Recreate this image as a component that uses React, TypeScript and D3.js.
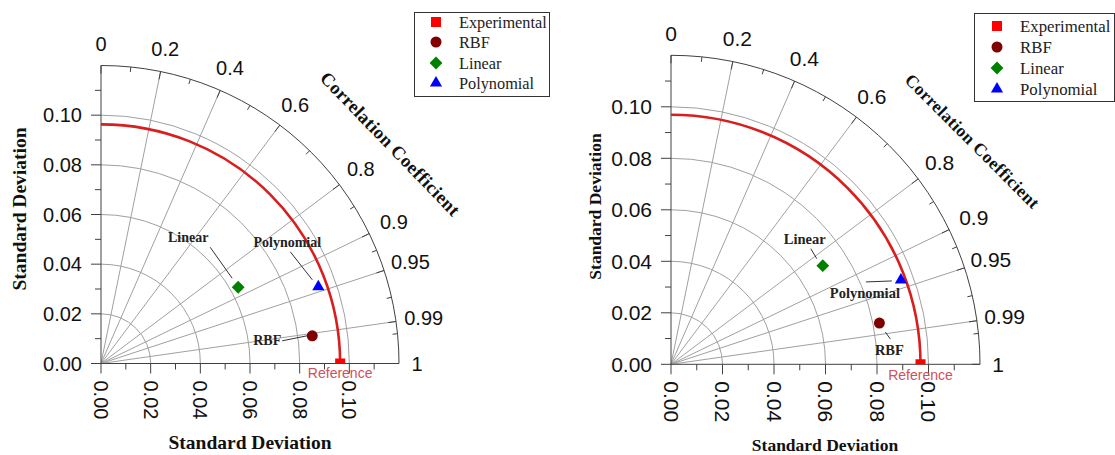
import React from "react";
import * as d3 from "d3";

// ---- data ----
const corrMajor = [0, 0.2, 0.4, 0.6, 0.8, 0.9, 0.95, 0.99, 1];
const corrMajorLabels = ["0", "0.2", "0.4", "0.6", "0.8", "0.9", "0.95", "0.99", "1"];
const corrMinor = [0.1, 0.3, 0.5, 0.7, 0.85, 0.925, 0.975, 0.995];
const corrGrid = [0.2, 0.4, 0.6, 0.8, 0.9, 0.95, 0.99];
const stdMajor = [0, 0.02, 0.04, 0.06, 0.08, 0.1];
const stdMajorLabels = ["0.00", "0.02", "0.04", "0.06", "0.08", "0.10"];
const stdMinor = [0.01, 0.03, 0.05, 0.07, 0.09, 0.11];
const stdGrid = [0.02, 0.04, 0.06, 0.08, 0.1];
const stdMax = 0.12;

const legendNames = ["Experimental", "RBF", "Linear", "Polynomial"];
const modelNames = ["RBF", "Linear", "Polynomial"];

const leftRefStd = 0.0963;
const leftModelStd = [0.0858, 0.0632, 0.0928];
const leftModelCorr = [0.9915, 0.874, 0.943];

const rightRefStd = 0.0969;
const rightModelStd = [0.0825, 0.0703, 0.0951];
const rightModelCorr = [0.981, 0.8385, 0.9388];

// ---- styles ----
const SANS = "'Liberation Sans', Arial, sans-serif";
const SERIF = "'Liberation Serif', 'Times New Roman', serif";
const colors: Record<string, string> = {
  Experimental: "#ff0000",
  RBF: "#800000",
  Linear: "#008000",
  Polynomial: "#0000ff",
};

function markerPath(name: string, scale = 1): { d: string; rot: number } {
  if (name === "Experimental") return { d: d3.symbol(d3.symbolSquare, 100 * scale)()!, rot: 0 };
  if (name === "RBF") return { d: d3.symbol(d3.symbolCircle, 95 * scale)()!, rot: 0 };
  if (name === "Linear") return { d: d3.symbol(d3.symbolSquare, 82 * scale)()!, rot: 45 };
  return { d: d3.symbol(d3.symbolTriangle, 64 * scale)()!, rot: 0 };
}

type Ann = { label: [number, number]; l0: [number, number]; l1: [number, number] };

type Props = {
  id: string;
  ox: number;
  oy: number;
  R: number;
  refStd: number;
  modelStd: number[];
  modelCorr: number[];
  anns: Ann[];
  annSize: number;
  tickSize: number;
  yTitle: [number, number];
  xTitle: [number, number];
  titleSize: number;
  corrTitle: { r: number; ang: number; rot: number; size: number };
  legend: { x: number; y: number; w: number; h: number; mx: number; tx: number; rows: number[]; size: number };
  refLabelDy: number;
};

function Taylor(p: Props) {
  const r = d3.scaleLinear().domain([0, stdMax]).range([0, p.R]);
  const pt = (s: number, c: number): [number, number] => {
    const th = Math.acos(c);
    return [p.ox + r(s) * Math.cos(th), p.oy - r(s) * Math.sin(th)];
  };
  const arcPath = (rad: number) => {
    const path = d3.path();
    path.moveTo(p.ox, p.oy - rad);
    path.arc(p.ox, p.oy, rad, -Math.PI / 2, 0, false);
    return path.toString();
  };
  const grid = "#a0a0a0";
  const axis = "#404040";
  const refPt = pt(p.refStd, 1);

  return (
    <g>
      <defs>
        <clipPath id={`clip-${p.id}`}>
          <rect x={p.ox - 5} y={p.oy - p.R - 20} width={p.R + 30} height={p.R + 20} />
        </clipPath>
      </defs>
      {stdGrid.map((s) => (
        <path key={"g" + s} d={arcPath(r(s))} fill="none" stroke={grid} strokeWidth={1} />
      ))}
      {corrGrid.map((c) => {
        const [x, y] = pt(stdMax, c);
        return <line key={"rl" + c} x1={p.ox} y1={p.oy} x2={x} y2={y} stroke={grid} strokeWidth={1} />;
      })}
      <path d={arcPath(p.R)} fill="none" stroke={axis} strokeWidth={1} />
      {corrMajor.map((c) => {
        const th = Math.acos(c);
        const a = [p.ox + p.R * Math.cos(th), p.oy - p.R * Math.sin(th)];
        const b = [p.ox + (p.R - 8) * Math.cos(th), p.oy - (p.R - 8) * Math.sin(th)];
        return <line key={"mt" + c} x1={a[0]} y1={a[1]} x2={b[0]} y2={b[1]} stroke={axis} strokeWidth={1} />;
      })}
      {corrMinor.map((c) => {
        const th = Math.acos(c);
        const a = [p.ox + p.R * Math.cos(th), p.oy - p.R * Math.sin(th)];
        const b = [p.ox + (p.R - 5) * Math.cos(th), p.oy - (p.R - 5) * Math.sin(th)];
        return <line key={"nt" + c} x1={a[0]} y1={a[1]} x2={b[0]} y2={b[1]} stroke={axis} strokeWidth={1} />;
      })}
      {corrMajor.map((c, i) => {
        const th = Math.acos(c);
        const lab = corrMajorLabels[i];
        const rl = lab === "1" ? p.R + 18 : lab === "0" ? p.R + 22 : p.R + 22 + 6 * c;
        return (
          <text
            key={"cl" + c}
            x={p.ox + rl * Math.cos(th)}
            y={p.oy - rl * Math.sin(th)}
            textAnchor="middle"
            dominantBaseline="central"
            fontFamily={SANS}
            fontSize={p.tickSize}
            fill="#111"
          >
            {lab}
          </text>
        );
      })}
      <line x1={p.ox} y1={p.oy} x2={p.ox} y2={p.oy - p.R} stroke={axis} strokeWidth={1} />
      <line x1={p.ox} y1={p.oy} x2={p.ox + p.R} y2={p.oy} stroke={axis} strokeWidth={1} />
      {stdMajor.map((s, i) => (
        <g key={"sm" + s}>
          <line x1={p.ox - 10} y1={p.oy - r(s)} x2={p.ox} y2={p.oy - r(s)} stroke={axis} />
          <line x1={p.ox + r(s)} y1={p.oy} x2={p.ox + r(s)} y2={p.oy + 10} stroke={axis} />
          <text
            x={p.ox - 19}
            y={p.oy - r(s)}
            textAnchor="end"
            dominantBaseline="central"
            fontFamily={SANS}
            fontSize={p.tickSize}
            fill="#111"
          >
            {stdMajorLabels[i]}
          </text>
          <text
            transform={`translate(${p.ox + r(s)},${p.oy + 17}) rotate(90)`}
            textAnchor="start"
            dominantBaseline="central"
            fontFamily={SANS}
            fontSize={p.tickSize}
            fill="#111"
          >
            {stdMajorLabels[i]}
          </text>
        </g>
      ))}
      {stdMinor.map((s) => (
        <g key={"sn" + s}>
          <line x1={p.ox - 6} y1={p.oy - r(s)} x2={p.ox} y2={p.oy - r(s)} stroke={axis} />
          <line x1={p.ox + r(s)} y1={p.oy} x2={p.ox + r(s)} y2={p.oy + 6} stroke={axis} />
        </g>
      ))}
      <path d={arcPath(r(p.refStd))} fill="none" stroke="#d81e1e" strokeWidth={2.6} />
      <g clipPath={`url(#clip-${p.id})`}>
        <path d={markerPath("Experimental").d} transform={`translate(${refPt[0]},${refPt[1]})`} fill={colors.Experimental} />
      </g>
      <text
        x={refPt[0]}
        y={p.oy + p.refLabelDy}
        textAnchor="middle"
        fontFamily={SANS}
        fontSize={14}
        fill="#d0505a"
      >
        Reference
      </text>
      {modelNames.map((n, i) => {
        const [x, y] = pt(p.modelStd[i], p.modelCorr[i]);
        const m = markerPath(n);
        const a = p.anns[i];
        return (
          <g key={"m" + n}>
            <line x1={x + a.l0[0]} y1={y + a.l0[1]} x2={x + a.l1[0]} y2={y + a.l1[1]} stroke="#333" strokeWidth={1} />
            <text
              x={x + a.label[0]}
              y={y + a.label[1]}
              textAnchor="middle"
              dominantBaseline="central"
              fontFamily={SERIF}
              fontWeight="bold"
              fontSize={p.annSize}
              fill="#222"
            >
              {n}
            </text>
            <path d={m.d} transform={`translate(${x},${y}) rotate(${m.rot})`} fill={colors[n]} />
          </g>
        );
      })}
      <text
        transform={`translate(${p.yTitle[0]},${p.yTitle[1]}) rotate(-90)`}
        textAnchor="middle"
        dominantBaseline="central"
        fontFamily={SERIF}
        fontWeight="bold"
        fontSize={p.titleSize}
        fill="#111"
      >
        Standard Deviation
      </text>
      <text
        x={p.xTitle[0]}
        y={p.xTitle[1]}
        textAnchor="middle"
        dominantBaseline="central"
        fontFamily={SERIF}
        fontWeight="bold"
        fontSize={p.titleSize}
        fill="#111"
      >
        Standard Deviation
      </text>
      <text
        transform={`translate(${p.ox + p.corrTitle.r * Math.cos((p.corrTitle.ang * Math.PI) / 180)},${
          p.oy - p.corrTitle.r * Math.sin((p.corrTitle.ang * Math.PI) / 180)
        }) rotate(${p.corrTitle.rot})`}
        textAnchor="middle"
        dominantBaseline="central"
        fontFamily={SERIF}
        fontWeight="bold"
        fontSize={p.corrTitle.size}
        letterSpacing={0.4}
        fill="#111"
      >
        Correlation Coefficient
      </text>
      <rect x={p.legend.x} y={p.legend.y} width={p.legend.w} height={p.legend.h} fill="white" stroke="#333" strokeWidth={1} />
      {legendNames.map((n, i) => {
        const m = markerPath(n, 1);
        const yy = p.legend.rows[i];
        return (
          <g key={"lg" + n}>
            <path d={m.d} transform={`translate(${p.legend.mx},${yy}) rotate(${m.rot})`} fill={colors[n]} />
            <text
              x={p.legend.tx}
              y={yy}
              dominantBaseline="central"
              fontFamily={SERIF}
              fontSize={p.legend.size}
              fill="#222"
            >
              {n}
            </text>
          </g>
        );
      })}
    </g>
  );
}

export default function App() {
  return (
    <svg
      width={1115}
      height={455}
      style={{ position: "absolute", left: 0, top: 0, background: "white" }}
    >
      <rect x={0} y={0} width={1115} height={455} fill="white" />
      <Taylor
        id="left"
        ox={101}
        oy={363.5}
        R={298}
        refStd={leftRefStd}
        modelStd={leftModelStd}
        modelCorr={leftModelCorr}
        anns={[
          { label: [-45, 5], l0: [-30, 5], l1: [-5, 0] },
          { label: [-50, -50], l0: [-28, -40], l1: [-6, -9] },
          { label: [-31, -44], l0: [-28, -35], l1: [-6, -7] },
        ]}
        annSize={14}
        tickSize={20}
        yTitle={[19, 209]}
        xTitle={[250, 442]}
        titleSize={19.5}
        corrTitle={{ r: 363, ang: 37.2, rot: 46, size: 18.5 }}
        legend={{ x: 414.5, y: 12.5, w: 135, h: 84, mx: 436, tx: 459, rows: [22, 42, 63, 83], size: 16.3 }}
        refLabelDy={14.5}
      />
      <Taylor
        id="right"
        ox={671}
        oy={364.3}
        R={309}
        refStd={rightRefStd}
        modelStd={rightModelStd}
        modelCorr={rightModelCorr}
        anns={[
          { label: [10, 27], l0: [6, 9], l1: [11, 16] },
          { label: [-18, -27], l0: [-12, -17], l1: [-6, -7] },
          { label: [-36, 13], l0: [-35, 2], l1: [-9, 1] },
        ]}
        annSize={14.5}
        tickSize={21}
        yTitle={[595, 206.5]}
        xTitle={[825, 445]}
        titleSize={17.5}
        corrTitle={{ r: 375, ang: 36.5, rot: 45, size: 17.5 }}
        legend={{ x: 974.5, y: 13.5, w: 140, h: 88, mx: 997, tx: 1020, rows: [26, 47, 68, 89], size: 16.8 }}
        refLabelDy={15.5}
      />
    </svg>
  );
}
